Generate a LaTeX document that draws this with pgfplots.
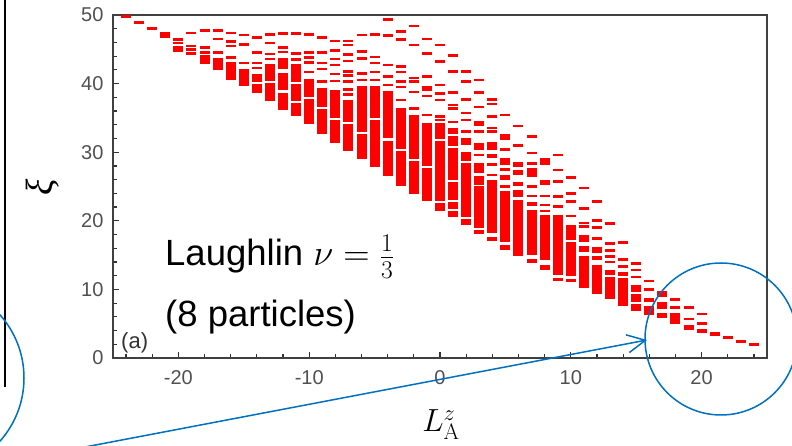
\RequirePackage{fix-cm}
\documentclass[border=0pt]{standalone}
\usepackage{pgfplots}
\pgfplotsset{compat=1.18}
\usepackage[no-math]{fontspec}
\setmainfont{Liberation Sans}
\newfontfamily\tnr{Liberation Serif}
\usetikzlibrary{arrows.meta}
\definecolor{annblue}{HTML}{0070C0}
\definecolor{tickgray}{HTML}{505050}
\begin{document}
\begin{tikzpicture}[x=1pt,y=1pt]
\useasboundingbox (0,0) rectangle (792,446);
\clip (0,0) rectangle (792,446);
\begin{axis}[
  at={(113pt,88pt)}, anchor=south west, scale only axis,
  width=654pt, height=343pt,
  xmin=-25, xmax=25, ymin=0, ymax=50,
  xtick={-20,-10,0,10,20}, xticklabels={-20,-10,0,10,20},
  ytick={0,10,20,30,40,50}, yticklabels={0,10,20,30,40,50},
  minor xtick={-24,-22,...,24}, minor ytick={2,4,...,48},
  tick align=inside, xtick pos=bottom, ytick pos=left,
  major tick length=6pt, minor tick length=3.5pt,
  every tick/.append style={black!80, line width=1.2pt},
  axis line style={black!75, line width=1.3pt},
  ticklabel style={font=\fontsize{20}{22}\selectfont, text=tickgray},
  xticklabel style={yshift=-9pt},
  yticklabel style={xshift=-6pt},
]
% dense blocks of levels (x, top) (x, bottom), separated by nan
\addplot[red, line width=10pt, mark=none, unbounded coords=jump] coordinates {
(-18,44.2) (-18,42.9) (-18,nan)
(-17,43.8) (-17,42.0) (-17,nan)
(-16,43.1) (-16,40.5) (-16,nan)
(-15,42.1) (-15,39.7) (-15,nan)
(-14,41.4) (-14,40.3) (-14,nan) (-14,40.0) (-14,38.7) (-14,nan)
(-13,42.8) (-13,40.4) (-13,nan) (-13,40.1) (-13,37.5) (-13,nan)
(-12,43.8) (-12,42.1) (-12,nan) (-12,41.6) (-12,39.0) (-12,nan) (-12,38.6) (-12,36.1) (-12,nan)
(-11,42.9) (-11,40.2) (-11,nan) (-11,39.9) (-11,37.4) (-11,nan) (-11,37.1) (-11,35.3) (-11,nan)
(-10,40.6) (-10,38.0) (-10,nan) (-10,37.7) (-10,34.1) (-10,nan)
(-9,39.4) (-9,36.6) (-9,nan) (-9,36.3) (-9,32.7) (-9,nan)
(-8,39.1) (-8,35.0) (-8,nan) (-8,34.7) (-8,31.4) (-8,nan)
(-7,37.6) (-7,34.4) (-7,nan) (-7,34.1) (-7,30.2) (-7,nan)
(-6,39.6) (-6,33.0) (-6,nan) (-6,32.7) (-6,29.0) (-6,nan)
(-5,39.6) (-5,35.0) (-5,nan) (-5,34.7) (-5,27.8) (-5,nan)
(-4,38.9) (-4,32.0) (-4,nan) (-4,31.7) (-4,26.6) (-4,nan)
(-3,36.5) (-3,30.5) (-3,nan) (-3,30.2) (-3,25.1) (-3,nan)
(-2,35.4) (-2,29.0) (-2,nan) (-2,28.7) (-2,23.9) (-2,nan)
(-1,34.3) (-1,28.0) (-1,nan) (-1,27.7) (-1,22.9) (-1,nan)
(0,34.2) (0,31.9) (0,nan) (0,31.6) (0,22.9) (0,nan) (0,22.6) (0,21.5) (0,nan)
(1,33.5) (1,32.6) (1,nan) (1,32.3) (1,30.9) (1,nan) (1,30.6) (1,26.0) (1,nan) (1,25.7) (1,23.0) (1,nan) (1,22.7) (1,21.7) (1,nan) (1,21.4) (1,20.5) (1,nan)
(2,32.0) (2,31.1) (2,nan) (2,30.1) (2,28.7) (2,nan) (2,28.4) (2,20.6) (2,nan) (2,20.3) (2,19.4) (2,nan)
(3,31.3) (3,30.3) (3,nan) (3,28.4) (3,26.9) (3,nan) (3,26.6) (3,25.2) (3,nan) (3,25.0) (3,18.9) (3,nan) (3,18.6) (3,18.1) (3,nan)
(4,31.5) (4,30.3) (4,nan) (4,29.8) (4,29.1) (4,nan) (4,25.9) (4,18.2) (4,nan) (4,17.7) (4,17.0) (4,nan)
(5,32.7) (5,31.8) (5,nan) (5,29.1) (5,28.1) (5,nan) (5,26.7) (5,25.9) (5,nan) (5,24.3) (5,16.9) (5,nan) (5,16.5) (5,15.8) (5,nan)
(6,28.6) (6,27.9) (6,nan) (6,27.4) (6,26.7) (6,nan) (6,25.7) (6,25.0) (6,nan) (6,24.5) (6,23.5) (6,nan) (6,23.0) (6,14.8) (6,nan)
(7,28.6) (7,28.1) (7,nan) (7,27.7) (7,26.4) (7,nan) (7,22.8) (7,22.1) (7,nan) (7,21.6) (7,15.0) (7,nan) (7,14.5) (7,13.8) (7,nan)
(8,29.1) (8,28.1) (8,nan) (8,25.9) (8,25.2) (8,nan) (8,20.9) (8,14.3) (8,nan) (8,13.6) (8,12.9) (8,nan)
(9,20.9) (9,12.1) (9,nan)
(10,19.4) (10,17.2) (10,nan) (10,16.9) (10,11.9) (10,nan)
(11,18.0) (11,16.9) (11,nan) (11,16.3) (11,15.4) (11,nan) (11,14.9) (11,10.2) (11,nan)
(12,16.2) (12,15.3) (12,nan) (12,14.8) (12,14.3) (12,nan) (12,13.6) (12,9.3) (12,nan)
(13,12.8) (13,12.1) (13,nan) (13,11.8) (13,8.6) (13,nan)
(14,12.6) (14,11.9) (14,nan) (14,11.6) (14,7.6) (14,nan)
(15,10.6) (15,9.6) (15,nan) (15,9.3) (15,8.1) (15,nan) (15,7.8) (15,6.8) (15,nan)
(16,10.2) (16,9.7) (16,nan) (16,8.7) (16,8.2) (16,nan) (16,7.6) (16,6.3) (16,nan)
(17,9.7) (17,8.9) (17,nan) (17,8.2) (17,7.2) (17,nan) (17,6.5) (17,5.8) (17,nan)
(18,6.6) (18,4.9) (18,nan)
(19,5.9) (19,5.5) (19,nan) (19,4.8) (19,4.1) (19,nan)
(20,4.2) (20,3.7) (20,nan)
(21,3.8) (21,3.2)
};
% isolated levels
\addplot[only marks, mark=-, mark size=5pt, red, mark options={line width=2.6pt, red}] coordinates {
(-24,49.8) (-23,48.9) (-22,48.0)
(-21,47.3) (-21,46.9)
(-20,46.4) (-20,45.9) (-20,45.3) (-20,44.8)
(-19,47.4) (-19,45.5) (-19,45.0) (-19,44.4)
(-18,47.7) (-18,45.3) (-18,44.5)
(-17,47.7) (-17,46.5) (-17,44.5)
(-16,47.4) (-16,46.1) (-16,45.5) (-16,43.8)
(-15,47.1) (-15,45.7) (-15,43.0)
(-14,46.7) (-14,44.5) (-14,43.0) (-14,42.3)
(-13,47.2) (-13,45.9) (-13,44.3) (-13,43.6)
(-12,47.3) (-12,45.3) (-12,44.6)
(-11,47.3) (-11,44.4) (-11,43.5)
(-10,47.2) (-10,44.5) (-10,43.8) (-10,43.1) (-10,41.7)
(-9,46.7) (-9,44.5) (-9,43.0) (-9,42.1) (-9,40.3)
(-8,46.2) (-8,44.8) (-8,43.6) (-8,42.7) (-8,41.4) (-8,40.4)
(-7,46.2) (-7,45.6) (-7,44.2) (-7,43.3) (-7,41.8) (-7,41.2) (-7,40.3) (-7,39.1) (-7,38.4)
(-6,47.1) (-6,44.7) (-6,43.7) (-6,41.5) (-6,40.5)
(-5,47.2) (-5,43.9) (-5,43.0) (-5,41.7) (-5,40.5)
(-4,49.3) (-4,47.0) (-4,42.7) (-4,41.0) (-4,39.8)
(-3,47.6) (-3,46.4) (-3,42.5) (-3,41.7) (-3,40.3) (-3,39.5) (-3,37.6)
(-2,48.4) (-2,45.6) (-2,40.8) (-2,40.3) (-2,38.8) (-2,36.4)
(-1,46.5) (-1,44.4) (-1,41.0) (-1,39.5) (-1,39.1) (-1,38.2) (-1,35.4)
(0,45.6) (0,43.2) (0,39.8) (0,38.6) (0,37.6) (0,35.2) (0,34.7)
(1,44.1) (1,41.8) (1,38.7) (1,36.9) (1,36.4) (1,34.4)
(2,41.8) (2,40.3) (2,37.7) (2,35.7) (2,34.7) (2,33.0)
(3,40.5) (3,38.7) (3,36.6) (3,34.4) (3,34.0) (3,33.0) (3,29.6)
(4,37.7) (4,37.0) (4,35.2) (4,33.5) (4,33.0) (4,28.2) (4,26.7)
(5,35.4) (5,30.4) (5,27.5) (5,25.0)
(6,33.8) (6,31.0)
(7,32.3) (7,29.9) (7,25.0) (7,23.6)
(8,23.6) (8,22.3) (8,21.4)
(9,29.6) (9,27.4) (9,25.7) (9,23.5) (9,22.1) (9,11.4)
(10,26.3) (10,24.0) (10,22.8) (10,20.7) (10,11.3)
(11,24.8) (11,21.8) (11,19.7) (11,19.2)
(12,22.8) (12,20.0) (12,19.0) (12,17.4)
(13,19.6) (13,16.7) (13,15.7) (13,14.8) (13,14.0)
(14,16.8) (14,14.4) (14,13.3)
(15,13.8) (15,12.8) (15,11.8)
(16,11.2)
(18,8.5) (18,7.4)
(19,7.4)
(20,6.4) (20,5.0)
(22,3.0) (23,2.4) (24,2.0)
};
\end{axis}
% labels
\node[rotate=90, inner sep=0] at (43,259) {\fontsize{38}{40}\selectfont\tnr\itshape ξ};
\node[inner sep=0] at (441,21) {\fontsize{32}{34}\selectfont $L^{z}_{\mathrm{A}}$};
\node[anchor=west, inner sep=0, text=black!80] at (121,103) {\fontsize{22}{24}\selectfont (a)};
\node[anchor=base west, inner sep=0] at (165,180) {\fontsize{36.5}{40}\selectfont Laughlin $\nu=\frac{1}{3}$};
\node[anchor=base west, inner sep=0] at (165,119) {\fontsize{36.5}{40}\selectfont (8 particles)};
% annotations
\draw[black, line width=1.5pt] (5,447) -- (5,59);
\draw[annblue, line width=1.5pt] (721,107) circle (76);
\draw[annblue, line width=1.5pt] (-71,68) circle (95);
\draw[annblue, line width=1.5pt, -{Straight Barb[length=18pt,width=18pt]}] (85,-1) -- (647,106);
\end{tikzpicture}
\end{document}
